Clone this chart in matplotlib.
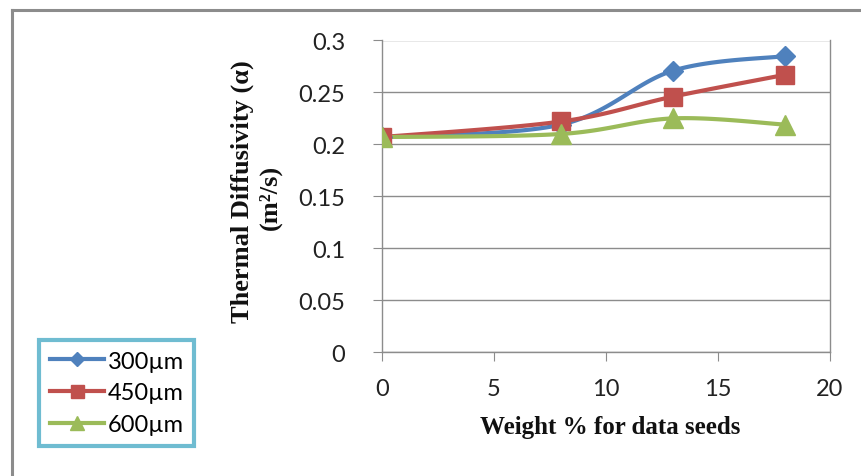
import numpy as np
import matplotlib
matplotlib.use("Agg")
import matplotlib.pyplot as plt
from matplotlib.lines import Line2D

weight = [0, 8, 13, 18]
s300 = [0.207, 0.219, 0.271, 0.285]
s450 = [0.207, 0.222, 0.246, 0.267]
s600 = [0.207, 0.210, 0.225, 0.219]
labels = ["300µm", "450µm", "600µm"]
colors = ["#4F81BD", "#C0504D", "#9BBB59"]
markers = ["D", "s", "^"]
msizes = [10, 13, 14]

fig = plt.figure(figsize=(8.61, 4.77), dpi=100)
ax = fig.add_axes([382/861, 1-353/477, 448/861, (353-41.5)/477])

XMAX, YMAX = 20, 0.3
SX, SY = 448/XMAX, 311.5/YMAX


def smooth(xs, ys, n=40):
    P = np.column_stack([np.array(xs)*SX, np.array(ys)*SY])
    out = []
    for i in range(len(P)-1):
        p0 = P[i-1] if i > 0 else P[i]
        p1, p2 = P[i], P[i+1]
        p3 = P[i+2] if i+2 < len(P) else P[i+1]
        c1 = p1 + (p2-p0)/6
        c2 = p2 - (p3-p1)/6
        t = np.linspace(0, 1, n)[:, None]
        seg = (1-t)**3*p1 + 3*(1-t)**2*t*c1 + 3*(1-t)*t**2*c2 + t**3*p2
        out.append(seg if i == 0 else seg[1:])
    pts = np.vstack(out)
    return pts[:, 0]/SX, pts[:, 1]/SY


for ys, c, m, ms in zip([s300, s450, s600], colors, markers, msizes):
    sx, sy = smooth(weight, ys)
    ax.plot(sx, sy, color=c, lw=3, solid_capstyle="round", zorder=3)
    ax.plot(weight, ys, linestyle="none", marker=m, markersize=ms, color=c,
            markeredgecolor=c, zorder=4)

ax.set_xlim(0, 20)
ax.set_ylim(0, 0.3)
ax.set_xticks([0, 5, 10, 15, 20])
ax.set_yticks([0, 0.05, 0.1, 0.15, 0.2, 0.25, 0.3])
ax.set_yticklabels(["0", "0.05", "0.1", "0.15", "0.2", "0.25", "0.3"])
ax.grid(axis="y", color="#8C8C8C", lw=1)
ax.set_axisbelow(True)
ax.spines["top"].set_visible(False)
for s in ["left", "bottom", "right"]:
    ax.spines[s].set_color("#8C8C8C")
    ax.spines[s].set_linewidth(1)
ax.tick_params(axis="both", direction="out", length=6.5, color="#8C8C8C",
               labelsize=17, labelcolor="#222222")
ax.tick_params(axis="y", pad=20)
ax.tick_params(axis="x", pad=12)
for lab in ax.get_xticklabels() + ax.get_yticklabels():
    lab.set_fontfamily("Lato")

fig.text(610/861, 1-428/477, "Weight % for data seeds", ha="center", va="center",
         fontsize=18, fontweight="bold", family="Liberation Serif", color="#111111")
fig.text(242/861, 1-192/477, "Thermal Diffusivity (α)", ha="center", va="center",
         rotation=90, fontsize=19, fontweight="bold", family="Liberation Serif", color="#111111")
fig.text(270/861, 1-197/477, "(m²/s)", ha="center", va="center",
         rotation=90, fontsize=19, fontweight="bold", family="Liberation Serif", color="#111111")

# outer chart border (top and left)
fig.add_artist(Line2D([12/861, 12/861], [0, 1-11/477], transform=fig.transFigure,
                      color="#8C8C8C", lw=2.2))
fig.add_artist(Line2D([12/861, 1], [1-11/477, 1-11/477], transform=fig.transFigure,
                      color="#8C8C8C", lw=2.2))

handles = [Line2D([0], [0], color=c, lw=3, marker=m, markersize=ms*0.72,
                  markeredgecolor=c) for c, m, ms in zip(colors, markers, msizes)]
leg = fig.legend(handles, labels, loc="upper left",
                 bbox_to_anchor=(39/861, 1-341/477), frameon=True, fancybox=False,
                 prop={"family": "Lato", "size": 17}, handlelength=2.3,
                 handletextpad=0.15, borderpad=0.45, labelspacing=0.45,
                 borderaxespad=0)
leg.get_frame().set_edgecolor("#4BACC6")
leg.get_frame().set_linewidth(3)

fig.savefig("out.png", dpi=100)
